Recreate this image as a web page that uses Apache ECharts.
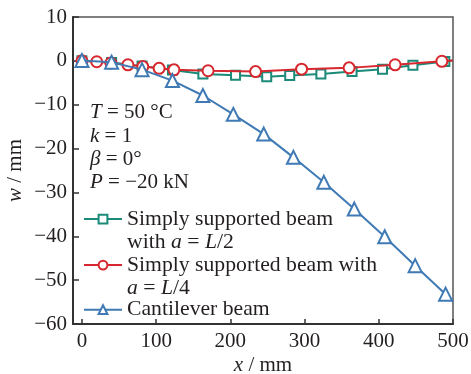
<!DOCTYPE html>
<html>
<head>
<meta charset="utf-8">
<script src="https://cdn.jsdelivr.net/npm/echarts@6/dist/echarts.min.js"></script>
<style>
  html, body { margin: 0; padding: 0; background: #fff; }
  #chart { width: 471px; height: 374px; }
</style>
</head>
<body>
<div id="chart"></div>
<script>
// Deflection w (mm) along the beam x (mm), T = 50 °C, k = 1, β = 0°, P = −20 kN
const xHalf = [0, 40, 81, 122, 163, 207, 249, 280, 322, 364, 405, 446, 489, 500];
const wHalf = [0, -0.4, -1.2, -2.1, -3.0, -3.3, -3.6, -3.35, -3.0, -2.45, -1.9, -1.0, -0.15, 0.1];

const xQuarter = [0, 20, 39, 62, 82, 104, 124, 170, 234, 296, 360, 422, 485, 500];
const wQuarter = [0, -0.2, -0.5, -0.9, -1.3, -1.7, -2.05, -2.25, -2.45, -1.9, -1.6, -0.9, -0.1, 0.1];

const xCantilever = [0, 40, 81, 122, 163, 204, 245, 285, 326, 367, 408, 449, 490, 500];
const wCantilever = [0.1, -0.3, -2.0, -4.5, -7.9, -12.2, -16.7, -22.0, -27.7, -33.8, -40.1, -46.7, -53.2, -54.9];

const xTicks = [0, 100, 200, 300, 400, 500];

const seriesNames = [
  'Simply supported beam\nwith a = L/2',
  'Simply supported beam with\na = L/4',
  'Cantilever beam'
];
const legendLabels = [
  'Simply supported beam\nwith {i|a} = {i|L}/2',
  'Simply supported beam with\n{i|a} = {i|L}/4',
  'Cantilever beam'
];

const FONT = 'Liberation Serif';
const FS = 21;
const LEGEND_FS = 21.7;
const INK = '#231f20';
const LH = 23.4;
const colors = ['#1b8a78', '#d7282f', '#3f7ab5'];

// The final sample at x = 500 closes the curve without a marker
function toData(xs, ws) {
  return xs.map((x, i) => i === xs.length - 1
    ? { value: [x, ws[i]], symbol: 'none' }
    : [x, ws[i]]);
}

function italicRich(size) {
  return { i: { fontStyle: 'italic', fontFamily: FONT, fontSize: size, color: INK, lineHeight: LH } };
}
const richItalic = italicRich(FS);

function legendFor(idx, top, multiLine) {
  return {
    orient: 'vertical',
    left: 83,
    top: top,
    padding: 0,
    itemWidth: 38,
    itemHeight: 11,
    data: [{
      name: seriesNames[idx],
      textStyle: multiLine ? { padding: [LH, 0, 0, 0] } : {}
    }],
    formatter: (name) => legendLabels[seriesNames.indexOf(name)],
    textStyle: { fontFamily: FONT, fontSize: LEGEND_FS, color: INK, lineHeight: LH, rich: italicRich(LEGEND_FS) }
  };
}

const chart = echarts.init(document.getElementById('chart'), null, { renderer: 'canvas' });

const symbolSpec = [
  { symbol: 'emptyRect', size: 9 },
  { symbol: 'emptyCircle', size: 11 },
  { symbol: 'emptyTriangle', size: 13 }
];
const seriesData = [
  toData(xHalf, wHalf),
  toData(xQuarter, wQuarter),
  toData(xCantilever, wCantilever)
];

chart.setOption({
  animation: false,
  backgroundColor: '#fff',
  color: colors,
  title: {
    text: '{i|T} = 50 °C\n{i|k} = 1\n{i|β} = 0°\n{i|P} = −20 kN',
    left: 90,
    top: 101,
    padding: 0,
    textStyle: { fontFamily: FONT, fontSize: FS, fontWeight: 'normal', color: INK, lineHeight: LH, rich: richItalic }
  },
  legend: [
    legendFor(0, 184, true),
    legendFor(1, 230, true),
    legendFor(2, 298, false)
  ],
  grid: {
    left: 73, right: 18, top: 17, bottom: 50,
    outerBoundsMode: 'none',
    containLabel: false,
    show: true, borderColor: '#555', borderWidth: 1.5, backgroundColor: 'transparent'
  },
  xAxis: {
    type: 'value',
    min: -12,
    max: 500,
    name: '{i|x} / mm',
    nameLocation: 'middle',
    nameGap: 30,
    nameMoveOverlap: false,
    nameTextStyle: { fontFamily: FONT, fontSize: FS, color: INK, rich: richItalic },
    axisLine: { onZero: false, lineStyle: { color: '#333', width: 2 } },
    axisTick: { inside: true, length: 5, customValues: xTicks, lineStyle: { color: '#333', width: 1.5 } },
    axisLabel: { customValues: xTicks, margin: 7, fontFamily: FONT, fontSize: FS, color: INK },
    splitLine: { show: false }
  },
  yAxis: {
    type: 'value',
    min: -60,
    max: 10,
    interval: 10,
    name: '{i|w} / mm',
    nameLocation: 'middle',
    nameGap: 46,
    nameMoveOverlap: false,
    nameRotate: 90,
    nameTextStyle: { fontFamily: FONT, fontSize: FS, color: INK, rich: richItalic },
    axisLine: { onZero: false, lineStyle: { color: '#333', width: 2 } },
    axisTick: { inside: true, length: 6, lineStyle: { color: '#333', width: 1.5 } },
    axisLabel: { margin: 6, fontFamily: FONT, fontSize: FS, color: INK, formatter: (v) => String(v).replace('-', '−') },
    splitLine: { show: false }
  },
  series: seriesData.map((data, i) => ({
    type: 'line',
    name: seriesNames[i],
    data: data,
    symbol: symbolSpec[i].symbol,
    symbolSize: symbolSpec[i].size,
    showAllSymbol: true,
    lineStyle: { width: 2, color: colors[i] },
    itemStyle: { color: colors[i], borderWidth: 2 },
    z: 2 + i
  }))
});
</script>
</body>
</html>
